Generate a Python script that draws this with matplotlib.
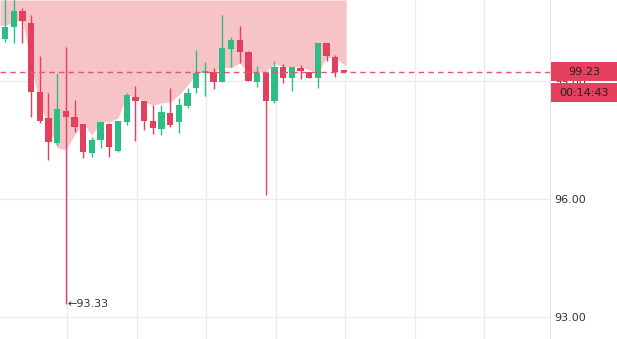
import numpy as np
import matplotlib.pyplot as plt
from matplotlib.patches import Rectangle

# candle data
opens = [100.07, 100.37, 100.78, 100.48, 98.72, 98.06, 97.42, 98.24, 98.09, 97.91,
         97.17, 97.50, 97.91, 97.22, 97.96, 98.59, 98.49, 97.98, 97.78, 98.19,
         97.96, 98.36, 98.82, 99.20, 99.23, 98.98, 99.81, 100.04, 99.74, 98.98,
         99.20, 98.49, 99.36, 99.08, 99.33, 99.23, 99.08, 99.97, 99.61, 99.26]
highs = [101.40, 101.40, 100.86, 100.68, 99.64, 98.70, 99.20, 99.86, 98.52, 97.91,
         97.58, 97.96, 97.93, 97.98, 98.70, 98.87, 98.49, 98.39, 98.39, 98.82,
         98.57, 98.82, 99.79, 99.48, 99.33, 100.68, 100.12, 100.40, 99.76, 99.38,
         99.23, 99.51, 99.43, 99.36, 99.41, 99.23, 99.97, 99.97, 99.66, 99.26]
lows = [99.99, 99.97, 99.97, 98.09, 97.93, 96.99, 97.37, 93.33, 97.70, 97.04,
        97.07, 97.30, 97.07, 97.20, 97.88, 97.47, 97.75, 97.65, 97.63, 97.83,
        97.68, 98.31, 98.70, 98.62, 98.80, 98.98, 99.36, 99.46, 99.00, 98.85,
        96.10, 98.44, 98.95, 98.75, 99.05, 99.08, 98.82, 99.51, 99.10, 99.22]
closes = [100.37, 100.78, 100.53, 98.72, 97.98, 97.45, 98.29, 98.09, 97.83, 97.20,
          97.50, 97.96, 97.32, 97.98, 98.64, 98.49, 97.98, 97.81, 98.21, 97.88,
          98.39, 98.70, 99.20, 99.25, 98.98, 99.84, 100.04, 99.74, 99.00, 99.20,
          98.49, 99.36, 99.08, 99.36, 99.25, 99.08, 99.97, 99.64, 99.23, 99.23]

# lower edge of the shaded zone
area_edge = [100.42, 100.50, 100.55, 99.41, 98.39, 97.88, 97.30, 97.25, 97.63, 97.93,
             97.63, 97.96, 97.96, 98.06, 98.64, 98.59, 98.47, 98.39, 98.44, 98.47,
             98.64, 98.90, 99.20, 99.23, 99.23, 99.36, 99.33, 99.46, 99.20, 99.23,
             99.23, 99.46, 99.36, 99.36, 99.36, 99.28, 99.23, 99.59, 99.61, 99.41]

price_ticks = [93, 96, 99]
tick_labels = ['93.00', '96.00', '99.00']
last_price = 99.23
last_label = '99.23'
countdown = '00:14:43'
min_price = 93.33

UP = '#2ebd85'
DOWN = '#e2405c'
GRID = '#ececf0'

fig = plt.figure(figsize=(6.17, 3.39), dpi=100)
ax = fig.add_axes([0, 0, 550 / 617, 1])

idx = np.arange(len(closes))
xmin, xmax = -0.575, 62.7
ymin, ymax = 92.44, 101.06

# shaded area from edge up to top
ax.fill_between(np.r_[xmin, idx, idx[-1] + 0.25],
                np.r_[area_edge[0], area_edge, area_edge[-1]],
                ymax, color='#f6c3c6', lw=0, zorder=1)

for i in idx:
    o, h, l, c = opens[i], highs[i], lows[i], closes[i]
    col = UP if c >= o else DOWN
    ax.vlines(i, l, h, color=col, lw=1, zorder=3)
    bottom = min(o, c)
    height = max(abs(c - o), 0.04)
    ax.add_patch(Rectangle((i - 0.36, bottom), 0.72, height, color=col, lw=0, zorder=4))

ax.set_xlim(xmin, xmax)
ax.set_ylim(ymin, ymax)

# grid
for t in price_ticks:
    ax.axhline(t, color=GRID, lw=1, zorder=0)
for gx in np.arange(7, 63, 8) + 0.15:
    ax.axvline(gx, color=GRID, lw=1, zorder=0)

ax.axhline(last_price, color='#e5566f', lw=1, ls=(0, (4, 3)), zorder=5)

# lowest price marker
low_i = int(np.argmin(lows))
ax.text(low_i + 0.15, lows[low_i], '\u2190' + f'{min_price:.2f}', fontsize=8,
        color='#333333', va='center', ha='left', zorder=6)

ax.set_xticks([])
ax.set_yticks(price_ticks)
ax.set_yticklabels(tick_labels)
ax.yaxis.tick_right()
ax.tick_params(axis='y', length=0, pad=3, labelsize=8, labelcolor='#333333')
for s in ['top', 'bottom', 'left']:
    ax.spines[s].set_visible(False)
ax.spines['right'].set_color('#e3e3e8')

# current price + countdown boxes on the price scale
fig.canvas.draw()
fh = fig.get_figheight() * fig.dpi
fw = fig.get_figwidth() * fig.dpi
y_pix = ax.transData.transform((0, last_price))[1]
bx = 551 / fw
bh = 19 / fh
y1 = (y_pix - 9.5) / fh
y2 = y1 - bh - 2 / fh
for yb, txt in [(y1, last_label), (y2, countdown)]:
    fig.patches.append(Rectangle((bx, yb), 1 - bx, bh, transform=fig.transFigure,
                                 color='#e5405e', lw=0, zorder=10))
    fig.text((bx + 1) / 2, yb + bh / 2, txt, ha='center', va='center',
             fontsize=8, color='#222222', zorder=11)

plt.savefig('out.png', dpi=100)
